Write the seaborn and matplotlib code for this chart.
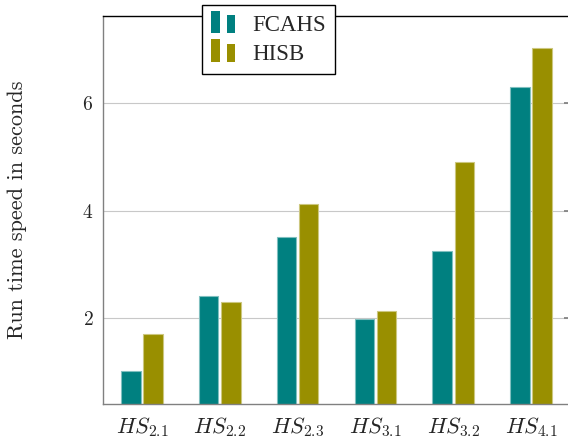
import seaborn as sns
import pandas as pd
from matplotlib import pyplot as plt
from matplotlib.patches import Rectangle
from matplotlib.legend_handler import HandlerBase

categories = ['$HS_{2.1}$', '$HS_{2.2}$', '$HS_{2.3}$', '$HS_{3.1}$', '$HS_{3.2}$', '$HS_{4.1}$']
fcahs = [1.01, 2.41, 3.51, 1.98, 3.25, 6.30]
hisb = [1.70, 2.30, 4.12, 2.13, 4.90, 7.02]
series = ['FCAHS', 'HISB']
colors = ['#008080', '#998f00']
edges = ['#7fbfbf', '#ccc77f']


class TwoBarHandler(HandlerBase):
    # pgfplots-style ybar legend: two little bars
    def create_artists(self, legend, orig_handle, xdescent, ydescent,
                       width, height, fontsize, trans):
        fc = orig_handle.get_facecolor()
        bw = width * 0.36
        x0 = -xdescent
        y0 = -ydescent - height * 0.1
        r1 = Rectangle((x0, y0), bw, height * 1.3, facecolor=fc, edgecolor='none', transform=trans)
        r2 = Rectangle((x0 + width - bw, y0), bw, height * 1.05, facecolor=fc, edgecolor='none', transform=trans)
        return [r1, r2]


df = pd.DataFrame({
    'case': categories * 2,
    'time': fcahs + hisb,
    'method': [series[0]] * len(categories) + [series[1]] * len(categories),
})

sns.set_theme(style='white')
plt.rcParams['font.family'] = ['cmr10']
plt.rcParams['mathtext.fontset'] = 'cm'
plt.rcParams['axes.formatter.use_mathtext'] = True

fig = plt.figure(figsize=(5.68, 4.43), dpi=100)
ax = fig.add_axes([103 / 568, 39 / 443, 467 / 568, 388 / 443])

sns.barplot(data=df, x='case', y='time', hue='method', palette=colors,
            width=0.57, gap=0.12, ax=ax, legend=False, saturation=1)

for i, bar in enumerate(ax.patches[:2 * len(categories)]):
    bar.set_edgecolor(edges[i // len(categories)])
    bar.set_linewidth(0.8)

ax.set_xlim(-0.5, 5.5)
ax.set_ylim(0.4, 7.62)
ax.set_yticks([2, 4, 6])
ax.set_xlabel('')
ax.set_ylabel('Run time speed in seconds', fontsize=16)
ax.yaxis.set_label_coords(-0.163, 0.5)
ax.set_axisbelow(True)
ax.yaxis.grid(True, color='#c8c8c8', linewidth=0.8)
ax.tick_params(axis='y', direction='in', length=4, color='#808080', right=True,
               labelsize=14, pad=7)
ax.tick_params(axis='x', length=0, labelsize=16, pad=8)

for side in ['left', 'bottom', 'right']:
    ax.spines[side].set_color('#808080')
    ax.spines[side].set_linewidth(1)
ax.spines['top'].set_color('black')
ax.spines['top'].set_linewidth(1)

handles = [Rectangle((0, 0), 1, 1, facecolor=c) for c in colors]
leg = fig.legend(handles, series, loc='upper left', bbox_to_anchor=(202 / 568, 1 - 5 / 443),
                 handler_map={Rectangle: TwoBarHandler()}, frameon=True, fancybox=False,
                 framealpha=1, edgecolor='black', handlelength=1.05, handleheight=0.8,
                 handletextpad=0.75, borderpad=0.4, labelspacing=0.3, borderaxespad=0,
                 prop={'family': 'Liberation Serif', 'size': 16.5})
leg.get_frame().set_linewidth(1)

fig.savefig('out.png', dpi=100)
